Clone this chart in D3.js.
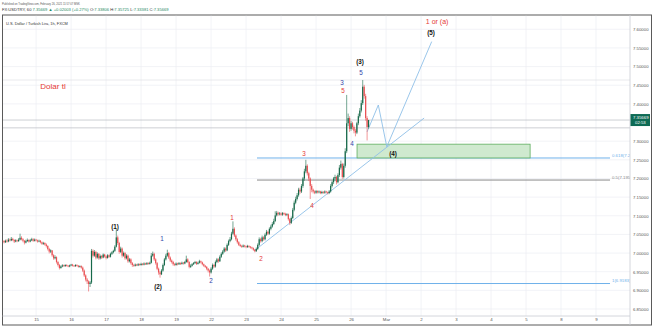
<!DOCTYPE html>
<html><head><meta charset="utf-8">
<script src="https://cdn.jsdelivr.net/npm/d3@7"></script>
<style>body{margin:0;background:#fff}svg{display:block;font-family:"Liberation Sans",Arial,sans-serif}</style>
</head><body><svg id="c" width="654" height="328"></svg>
<script>
// ---- data (hourly bars, USDTRY, FXCM) ----
const firstOpen = 7.032;
const closes = [
7.029,7.033,7.031,7.036,7.034,7.038,7.035,7.031,7.034,7.032,
7.036,7.041,7.037,7.033,7.028,7.032,7.035,7.031,7.034,7.037,
7.033,7.036,7.034,7.031,7.033,7.029,7.025,7.027,7.023,
7.019,7.011,7.004,7.007,6.994,6.986,6.989,6.976,6.968,6.960,
6.964,6.967,6.965,6.968,6.966,6.964,6.967,6.969,6.966,6.965,6.968,6.966,6.963,6.965,6.961,
6.953,6.940,6.929,6.924,6.917,6.921,
7.006,
6.993,7.003,6.988,6.998,6.986,6.992,6.988,6.996,6.991,6.987,6.994,6.990,6.998,7.002,7.006,
7.017,7.042,7.027,
7.003,7.012,6.993,7.000,6.986,6.993,6.978,6.983,6.973,6.968,
6.966,6.969,6.967,6.970,6.968,6.971,6.969,6.972,6.970,6.973,6.971,6.974,
6.993,6.998,6.983,6.973,6.958,6.948,6.943,6.953,6.968,6.983,6.993,7.000,
6.988,6.980,6.976,6.970,6.968,6.972,6.970,6.973,6.971,6.974,6.972,6.976,
6.983,6.976,6.963,6.966,
6.970,6.973,6.976,6.971,6.974,6.978,6.975,6.970,6.966,6.963,6.958,
6.953,6.948,6.958,
6.968,6.964,6.976,6.983,6.978,6.990,6.998,7.004,
7.012,7.007,7.022,7.032,7.037,
7.052,7.065,7.047,7.037,7.029,
7.022,7.019,7.017,7.020,7.018,7.016,7.019,7.017,7.015,
7.013,7.009,7.005,7.011,
7.022,7.037,7.032,7.042,7.037,7.049,7.057,7.052,7.065,7.071,7.078,7.086,
7.101,7.108,7.104,7.106,7.103,7.107,7.105,7.102,7.104,7.091,7.081,7.094,
7.116,7.135,7.145,7.155,7.170,7.165,7.180,7.200,7.219,7.234,7.214,
7.200,7.180,7.170,
7.165,7.162,7.166,7.163,7.165,7.161,7.164,7.162,7.165,7.163,7.161,7.165,
7.180,7.190,7.200,7.204,7.190,7.209,7.229,7.239,7.204,7.234,7.273,
7.348,7.362,7.333,
7.348,7.338,7.328,7.323,
7.348,7.367,7.382,7.402,7.446,7.421,7.362,7.338,7.35669
];
const highs = [
7.035,7.036,7.037,7.040,7.039,7.043,7.041,7.037,7.037,7.036,
7.040,7.052,7.045,7.040,7.035,7.036,7.039,7.037,7.038,7.041,
7.040,7.039,7.038,7.036,7.036,7.035,7.031,7.030,7.029,
7.026,7.021,7.014,7.010,7.008,6.997,6.994,6.991,6.979,6.971,
6.967,6.970,6.969,6.970,6.970,6.968,6.969,6.971,6.971,6.968,6.970,6.970,6.968,6.967,6.967,
6.964,6.956,6.943,6.933,6.927,6.925,
7.011,
7.010,7.008,7.006,7.002,7.000,6.996,6.995,6.999,6.998,6.994,6.997,6.996,7.001,7.005,7.009,
7.021,7.065,7.047,
7.030,7.017,7.015,7.004,7.003,6.997,6.996,6.987,6.986,6.976,
6.971,6.972,6.971,6.973,6.972,6.974,6.973,6.975,6.974,6.976,6.975,6.977,
7.000,7.004,7.001,6.986,6.976,6.961,6.952,6.957,6.972,6.987,6.998,7.009,
7.003,6.991,6.983,6.979,6.973,6.975,6.974,6.976,6.975,6.977,6.976,6.979,
6.993,6.986,6.978,6.970,
6.973,6.976,6.979,6.978,6.977,6.982,6.980,6.977,6.972,6.968,6.965,
6.960,6.956,6.962,
6.972,6.971,6.980,6.987,6.986,6.994,7.002,7.008,
7.016,7.015,7.026,7.036,7.043,
7.057,7.085,7.069,7.050,7.040,
7.032,7.025,7.022,7.023,7.022,7.020,7.022,7.021,7.019,
7.017,7.015,7.011,7.015,
7.026,7.042,7.041,7.047,7.045,7.053,7.062,7.060,7.069,7.076,7.083,7.092,
7.112,7.113,7.111,7.110,7.109,7.110,7.109,7.108,7.107,7.106,7.094,7.098,
7.121,7.141,7.151,7.161,7.175,7.175,7.185,7.204,7.226,7.250,7.238,
7.218,7.203,7.185,
7.173,7.168,7.169,7.168,7.168,7.167,7.167,7.166,7.168,7.167,7.165,7.169,
7.185,7.194,7.204,7.210,7.207,7.214,7.236,7.248,7.242,7.240,7.281,
7.424,7.374,7.367,
7.354,7.352,7.342,7.333,
7.352,7.374,7.389,7.410,7.464,7.451,7.427,7.367,7.35725
];
const lows = [
7.026,7.027,7.028,7.029,7.031,7.032,7.032,7.027,7.029,7.029,
7.030,7.034,7.034,7.029,7.023,7.026,7.030,7.028,7.029,7.032,
7.030,7.031,7.031,7.028,7.029,7.026,7.022,7.022,7.020,
7.015,7.007,6.999,7.000,6.990,6.982,6.983,6.972,6.964,6.956,
6.958,6.962,6.963,6.963,6.964,6.962,6.962,6.965,6.964,6.963,6.963,6.964,6.961,6.961,6.958,
6.949,6.936,6.924,6.917,6.897,6.909,
6.917,
6.988,6.990,6.983,6.985,6.982,6.983,6.984,6.986,6.988,6.983,6.985,6.987,6.988,6.995,6.999,
7.003,7.015,7.022,
6.998,7.000,6.988,6.990,6.982,6.983,6.974,6.975,6.969,6.963,
6.963,6.964,6.965,6.965,6.966,6.966,6.967,6.967,6.968,6.968,6.969,6.969,
6.972,6.990,6.979,6.969,6.954,6.942,6.934,6.941,6.950,6.965,6.980,6.990,
6.984,6.976,6.972,6.966,6.965,6.966,6.967,6.968,6.968,6.969,6.969,6.970,
6.974,6.973,6.959,6.960,
6.964,6.968,6.971,6.968,6.969,6.972,6.972,6.967,6.963,6.960,6.954,
6.948,6.937,6.945,
6.955,6.960,6.961,6.973,6.974,6.976,6.987,6.995,
7.001,7.003,7.005,7.019,7.029,
7.034,7.049,7.043,7.033,7.025,
7.019,7.016,7.014,7.015,7.015,7.013,7.014,7.014,7.012,
7.010,7.006,7.002,7.003,
7.008,7.019,7.028,7.029,7.033,7.034,7.046,7.048,7.049,7.061,7.068,7.075,
7.083,7.098,7.100,7.101,7.100,7.100,7.102,7.099,7.099,7.087,7.075,7.078,
7.091,7.112,7.131,7.141,7.151,7.159,7.161,7.175,7.194,7.214,7.208,
7.193,7.145,7.163,
7.160,7.158,7.159,7.160,7.160,7.158,7.158,7.159,7.159,7.160,7.157,7.158,
7.162,7.176,7.185,7.194,7.184,7.187,7.204,7.224,7.199,7.200,7.229,
7.268,7.340,7.325,
7.328,7.331,7.321,7.313,
7.319,7.343,7.363,7.377,7.397,7.414,7.355,7.302,7.33381
];
const dayTickBars = [22,46,70,94,118,142,166,190,214,238,262,286,310,334,358,382,406];
const dayTickLabels = ["15","16","17","18","19","22","23","24","25","26","Mar","2","3","4","5","8","9"];
const priceTicks = [6.85,6.90,6.95,7.00,7.05,7.10,7.15,7.20,7.25,7.30,7.40,7.45,7.50,7.55,7.60];
const lastPrice = 7.35669;
const extraLevels = [7.3357, 7.464];
const fibLevels = [
  {label:"0.618(7.2549)", p:7.2549, kind:"blue"},
  {label:"0.5(7.1958)", p:7.1958, kind:"gray"},
  {label:"1(6.9183)", p:6.9183, kind:"blue"}
];
const fibRange = [173.5, 415.6];
const trendLine = [[172.2,7.008],[288.1,7.362]];
const projection = [[249,7.325],[256.7,7.397],[262.5,7.285],[293.3,7.567]];
const zone = {i0:242.1, i1:360.8, p0:7.292, p1:7.255};
const waveLabels = [
  {t:"(1)", i:76.1, p:7.070, k:"k"},
  {t:"(2)", i:105.6, p:6.909, k:"k"},
  {t:"1", i:108.4, p:7.038, k:"b"},
  {t:"2", i:142, p:6.925, k:"b"},
  {t:"1", i:156.4, p:7.094, k:"r"},
  {t:"2", i:176.3, p:6.984, k:"r"},
  {t:"3", i:205.8, p:7.266, k:"r"},
  {t:"4", i:211.2, p:7.126, k:"r"},
  {t:"3", i:231.8, p:7.456, k:"b"},
  {t:"5", i:232.5, p:7.435, k:"r"},
  {t:"4", i:238.7, p:7.292, k:"b"},
  {t:"5", i:244.9, p:7.483, k:"b"},
  {t:"(3)", i:244.2, p:7.512, k:"k"},
  {t:"(4)", i:266.8, p:7.266, k:"k"},
  {t:"(5)", i:292.9, p:7.590, k:"k"}
];
const noteLabels = [
  {t:"1 or (a)", i:297, p:7.622, size:7},
  {t:"Dolar tl", i:33.6, p:7.448, size:8}
];

// ---- layout ----
const L=3, R=630, T=15.5, B=316;
const svg = d3.select("#c");
const x = d3.scaleLinear().domain([-0.7,429.3]).range([L,R]);
const y = d3.scaleLinear().domain([6.85,7.60]).range([309,29.3]);
const UP="#17694a", DN="#ea4f52";
const colors = {k:"#111111", b:"#3346a8", r:"#e53935"};

svg.append("rect").attr("width",654).attr("height",328).attr("fill","#fff");

// header
svg.append("text").attr("x",2).attr("y",5.2).attr("font-size",2.7).attr("fill","#555")
  .text("Published on TradingView.com, February 26, 2021 11:57:07 MSK");
const h2 = svg.append("text").attr("x",2).attr("y",11.4).attr("font-size",4.1).attr("fill","#333");
const TEAL="#1f8a63";
[["FX:USDTRY, 60  ","#333"],["7.35669 ▲ +0.02003 (+0.27%)",TEAL],["  O:","#333"],["7.33806",TEAL],
 [" H:","#333"],["7.35725",TEAL],[" L:","#333"],["7.33381",TEAL],[" C:","#333"],["7.35669",TEAL]]
 .forEach(([t,c])=>h2.append("tspan").attr("fill",c).text(t));

// frame
svg.append("rect").attr("x",2.5).attr("y",15).attr("width",649).attr("height",310)
  .attr("fill","none").attr("stroke","#5a5a5a").attr("stroke-width",1);

const defs = svg.append("defs");
defs.append("clipPath").attr("id","clip").append("rect").attr("x",L).attr("y",T).attr("width",R-L).attr("height",B-T);
const g = svg.append("g").attr("clip-path","url(#clip)");

// grid
g.selectAll(".hg").data(priceTicks).join("line")
  .attr("x1",L).attr("x2",R).attr("y1",d=>y(d)).attr("y2",d=>y(d))
  .attr("stroke","#eceef3").attr("stroke-width",0.7);
g.selectAll(".vg").data(dayTickBars).join("line")
  .attr("x1",d=>x(d)).attr("x2",d=>x(d)).attr("y1",T).attr("y2",B)
  .attr("stroke","#eceef3").attr("stroke-width",0.7);

// horizontal levels
g.selectAll(".lv").data(extraLevels).join("line")
  .attr("x1",L).attr("x2",R).attr("y1",d=>y(d)).attr("y2",d=>y(d))
  .attr("stroke",(d,i)=>i===0?"#b8bbc2":"#dfe1e6").attr("stroke-width",0.7);
g.append("line").attr("x1",L).attr("x2",R).attr("y1",y(lastPrice)).attr("y2",y(lastPrice))
  .attr("stroke","#b8bbc2").attr("stroke-width",0.7);

// fib levels
fibLevels.forEach(f=>{
  const col = f.kind==="blue" ? "#6fb1ea" : "#8a8a8a";
  g.append("line").attr("x1",x(fibRange[0])).attr("x2",x(fibRange[1]))
    .attr("y1",y(f.p)).attr("y2",y(f.p)).attr("stroke",col).attr("stroke-width",1);
  g.append("text").attr("x",x(fibRange[1])+2).attr("y",y(f.p)-1.2)
    .attr("font-size",4.3).attr("fill",col).text(f.label);
});

// zone
g.append("rect").attr("x",x(zone.i0)).attr("y",y(zone.p0))
  .attr("width",x(zone.i1)-x(zone.i0)).attr("height",y(zone.p1)-y(zone.p0))
  .attr("fill","#cfe9cf").attr("stroke","#5fae5f").attr("stroke-width",0.8);

// trend & projection
const line = d3.line().x(d=>x(d[0])).y(d=>y(d[1]));
g.append("path").attr("d",line(trendLine)).attr("fill","none").attr("stroke","#8fbfe8").attr("stroke-width",0.9);
g.append("path").attr("d",line(projection)).attr("fill","none").attr("stroke","#8fbfe8").attr("stroke-width",0.9);

// candles
const bars = closes.map((c,i)=>({i, o: i===0?firstOpen:closes[i-1], c, h:highs[i], l:lows[i]}));
const cg = g.append("g");
cg.selectAll("line").data(bars).join("line")
  .attr("x1",d=>x(d.i)).attr("x2",d=>x(d.i))
  .attr("y1",d=>y(d.h)).attr("y2",d=>y(d.l))
  .attr("stroke",d=>d.c>=d.o?UP:DN).attr("stroke-width",0.6);
cg.selectAll("rect").data(bars).join("rect")
  .attr("x",d=>x(d.i)-0.6).attr("width",1.2)
  .attr("y",d=>y(Math.max(d.o,d.c)))
  .attr("height",d=>Math.max(0.6, Math.abs(y(d.o)-y(d.c))))
  .attr("fill",d=>d.c>=d.o?UP:DN);

// wave labels
g.selectAll(".wl").data(waveLabels).join("text")
  .attr("x",d=>x(d.i)).attr("y",d=>y(d.p)).attr("dy","0.35em")
  .attr("text-anchor","middle").attr("font-size",6.3)
  .attr("font-weight",d=>d.k==="k"?"bold":"normal")
  .attr("fill",d=>colors[d.k]).text(d=>d.t);
g.selectAll(".nl").data(noteLabels).join("text")
  .attr("x",d=>x(d.i)).attr("y",d=>y(d.p)).attr("dy","0.35em")
  .attr("text-anchor","middle").attr("font-size",d=>d.size)
  .attr("fill","#e53935").text(d=>d.t);

// title inside chart
svg.append("text").attr("x",6).attr("y",24.5).attr("font-size",3.9).attr("fill","#333")
  .text("U.S. Dollar / Turkish Lira, 1h, FXCM");

// axes separators
svg.append("line").attr("x1",R).attr("x2",R).attr("y1",15).attr("y2",325).attr("stroke","#c9ccd3").attr("stroke-width",0.8);
svg.append("line").attr("x1",2.5).attr("x2",R).attr("y1",B).attr("y2",B).attr("stroke","#c9ccd3").attr("stroke-width",0.8);

// price axis
const ya = svg.append("g").attr("transform",`translate(${R},0)`)
  .call(d3.axisRight(y).tickValues(priceTicks).tickFormat(d3.format(".5f")).tickSize(0).tickPadding(3));
ya.select(".domain").remove();
ya.selectAll("text").attr("font-size",4.3).attr("fill","#555").attr("font-family","Liberation Sans, Arial, sans-serif");

// time axis
const xa = svg.append("g").attr("transform",`translate(0,${B})`)
  .call(d3.axisBottom(x).tickValues(dayTickBars).tickFormat((d,i)=>dayTickLabels[i]).tickSize(0).tickPadding(2));
xa.select(".domain").remove();
xa.selectAll("text").attr("font-size",4.3).attr("fill","#555").attr("font-family","Liberation Sans, Arial, sans-serif");

// last price label
const ly = y(lastPrice);
svg.append("rect").attr("x",R+0.5).attr("y",ly-6).attr("width",19.5).attr("height",12).attr("fill","#0e6b55");
svg.append("text").attr("x",R+3).attr("y",ly-1).attr("font-size",4.3).attr("fill","#fff").text(d3.format(".5f")(lastPrice));
svg.append("text").attr("x",R+5).attr("y",ly+4).attr("font-size",4.3).attr("fill","#fff").text("02:53");
</script></body></html>
